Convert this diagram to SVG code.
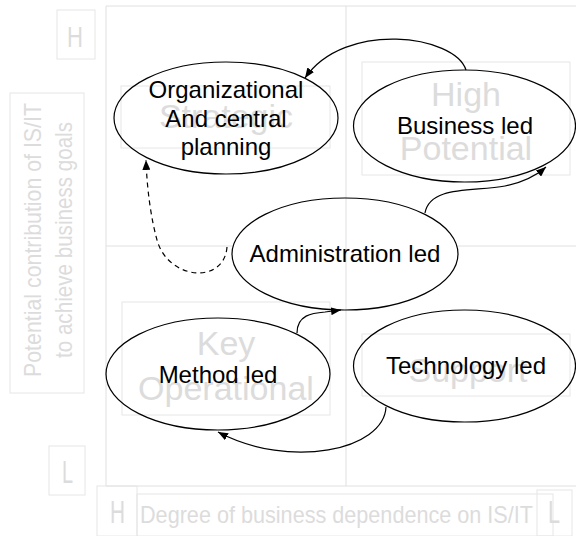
<svg xmlns="http://www.w3.org/2000/svg" width="576" height="536" viewBox="0 0 576 536">
<style>
.grid{stroke:#e0e0e0;stroke-width:1;fill:none}
.gbox{stroke:#e6e6e6;stroke-width:1;fill:none}
.gtxt{font-family:"Liberation Sans",Arial,sans-serif;fill:#dcdcdc}
.q{font-size:34px;text-anchor:middle}
.node{stroke:#000;stroke-width:1.2;fill:none}
.lbl{font-family:"Liberation Sans",Arial,sans-serif;font-size:24px;fill:#000;text-anchor:middle}
.conn{stroke:#000;stroke-width:1.2;fill:none;marker-end:url(#arr)}
.dash{stroke-dasharray:5,4}
</style>
<defs>
<marker id="arr" markerUnits="userSpaceOnUse" markerWidth="10" markerHeight="8" refX="10" refY="4" orient="auto">
<path d="M0,0 L10,4 L0,8 z" fill="#000"/>
</marker>
</defs>
<rect width="576" height="536" fill="#fff"/>
<g id="grid">
<line class="grid" x1="106" y1="6" x2="576" y2="6"/>
<line class="grid" x1="106" y1="6" x2="106" y2="486"/>
<line class="grid" x1="106" y1="486" x2="576" y2="486"/>
<line class="grid" x1="106" y1="246" x2="576" y2="246"/>
</g>
<ellipse cx="345" cy="254" rx="113" ry="56" fill="#fff"/>
<line class="grid" x1="346" y1="6" x2="346" y2="486"/>
<g id="axis-labels">
<rect class="gbox" x="57" y="10" width="38" height="49"/>
<text class="gtxt" x="67" y="47" font-size="30" textLength="16" lengthAdjust="spacingAndGlyphs">H</text>
<rect class="gbox" x="49" y="446" width="36" height="49"/>
<text class="gtxt" x="62" y="483" font-size="32" textLength="11" lengthAdjust="spacingAndGlyphs">L</text>
<rect class="gbox" x="10" y="93" width="74" height="300"/>
<text class="gtxt" transform="translate(41,377) rotate(-90)" font-size="24" textLength="274" lengthAdjust="spacingAndGlyphs">Potential contribution of IS/IT</text>
<text class="gtxt" transform="translate(72,358) rotate(-90)" font-size="24" textLength="236" lengthAdjust="spacingAndGlyphs">to achieve business goals</text>
<rect class="gbox" x="97" y="486" width="40" height="50"/>
<text class="gtxt" x="110" y="523" font-size="32" textLength="15" lengthAdjust="spacingAndGlyphs">H</text>
<rect class="gbox" x="137" y="494" width="416" height="42"/>
<text class="gtxt" x="140" y="523" font-size="24" textLength="393" lengthAdjust="spacingAndGlyphs">Degree of business dependence on IS/IT</text>
<rect class="gbox" x="537" y="490" width="35" height="46"/>
<text class="gtxt" x="548" y="523" font-size="32" textLength="12" lengthAdjust="spacingAndGlyphs">L</text>
</g>
<g id="quadrants">
<rect class="gbox" x="121" y="86" width="209" height="62"/>
<text class="gtxt q" x="226" y="128">Strategic</text>
<rect class="gbox" x="362" y="62" width="208" height="113"/>
<text class="gtxt q" x="466" y="106">High</text>
<text class="gtxt q" x="466" y="160">Potential</text>
<rect class="gbox" x="122" y="302" width="208" height="113"/>
<text class="gtxt q" x="226" y="355">Key</text>
<text class="gtxt q" x="226" y="400">Operational</text>
<rect class="gbox" x="362" y="334" width="208" height="62"/>
<text class="gtxt q" x="468" y="382">Support</text>
</g>
<g id="organizational">
<ellipse class="node" cx="226" cy="118" rx="112" ry="56"/>
<text class="lbl" x="226" y="98">Organizational</text>
<text class="lbl" x="226" y="127">And central</text>
<text class="lbl" x="226" y="155">planning</text>
</g>
<g id="business">
<ellipse class="node" cx="464.5" cy="126" rx="111" ry="56"/>
<text class="lbl" x="465" y="134">Business led</text>
</g>
<g id="administration">
<ellipse class="node" cx="345" cy="254" rx="113" ry="56"/>
<text class="lbl" x="345" y="262">Administration led</text>
</g>
<g id="method">
<ellipse class="node" cx="218" cy="374" rx="112" ry="56"/>
<text class="lbl" x="218" y="383">Method led</text>
</g>
<g id="technology">
<ellipse class="node" cx="464.5" cy="366" rx="111" ry="56"/>
<text class="lbl" x="466" y="374">Technology led</text>
</g>
<g id="connectors">
<path class="conn" d="M466,70 C455,35 345,20 305,78"/>
<path class="conn" d="M425,213 C430,185 475,192 505,186 C525,182 538,174 546,167"/>
<path class="conn" d="M297,333 C297,315 312,313 325,312 L341,310"/>
<path class="conn" d="M386,407 C384,450 290,470 218,432"/>
<path class="conn dash" d="M227,247 C224,285 168,280 157,240 C151,218 147,190 146,160"/>
</g>
</svg>
